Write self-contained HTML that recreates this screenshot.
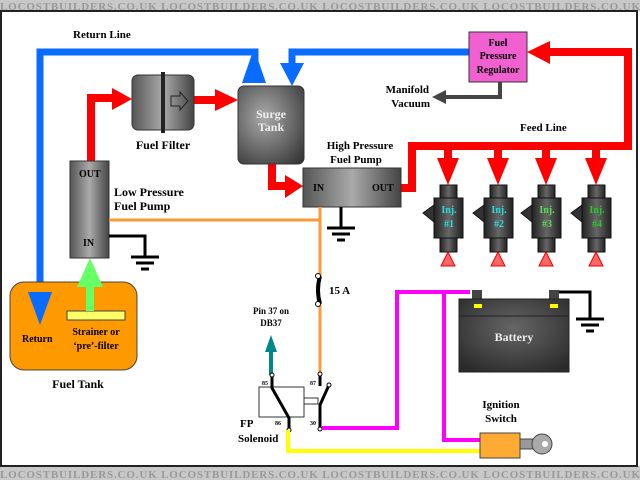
<!DOCTYPE html>
<html><head><style>
body{margin:0;width:640px;height:480px;overflow:hidden;background:#fff}
svg{display:block}
text{font-family:"Liberation Serif",serif;font-weight:bold}
</style></head><body>
<svg width="640" height="480" viewBox="0 0 640 480" xmlns="http://www.w3.org/2000/svg">
<defs>
<linearGradient id="g" x1="0" x2="1"><stop offset="0" stop-color="#555"/><stop offset=".5" stop-color="#aaa"/><stop offset="1" stop-color="#444"/></linearGradient>
<linearGradient id="d" x1="0" x2="1"><stop offset="0" stop-color="#222"/><stop offset=".5" stop-color="#666"/><stop offset="1" stop-color="#222"/></linearGradient>
<radialGradient id="s" cx=".4" cy=".4" r=".8"><stop offset="0" stop-color="#aaa"/><stop offset="1" stop-color="#333"/></radialGradient>
<radialGradient id="b" cx=".5" cy=".4" r=".7"><stop offset="0" stop-color="#666"/><stop offset="1" stop-color="#2a2a2a"/></radialGradient>
<g id="inj"><rect x="-8" y="0" width="17" height="15" fill="url(#d)" stroke="#111"/><rect x="-14" y="13" width="29" height="40" fill="url(#d)" stroke="#111"/><rect x="-8" y="53" width="17" height="14" fill="url(#d)" stroke="#111"/><polygon points="-14,20 -25,28 -14,37" fill="#333" stroke="#111"/><polygon points="0,67 -7,81 7,81" fill="#f66" stroke="#e00"/></g>
<g id="gnd"><line x1="-14" y1="0" x2="14" y2="0" stroke="#000" stroke-width="3"/><line x1="-9" y1="6" x2="9" y2="6" stroke="#000" stroke-width="3"/><line x1="-4" y1="12" x2="4" y2="12" stroke="#000" stroke-width="3"/></g>
</defs>
<rect x="0" y="0" width="640" height="11" fill="#c8c8c8"/>
<rect x="0" y="466" width="640" height="14" fill="#c8c8c8"/>
<text x="0" y="10" font-family="Liberation Sans" font-size="11" fill="#999" textLength="640">LOCOSTBUILDERS.CO.UK  LOCOSTBUILDERS.CO.UK  LOCOSTBUILDERS.CO.UK  LOCOSTBUILDERS.CO.UK</text>
<text x="0" y="478" font-family="Liberation Sans" font-size="11" fill="#999" textLength="640">LOCOSTBUILDERS.CO.UK  LOCOSTBUILDERS.CO.UK  LOCOSTBUILDERS.CO.UK  LOCOSTBUILDERS.CO.UK</text>
<rect x="1" y="11" width="636" height="455" fill="#fff" stroke="#222" stroke-width="2"/>

<!-- blue return -->
<polyline points="40,296 40,52 255,52 255,70" fill="none" stroke="#0a6cff" stroke-width="7"/>
<polygon points="28,292 52,292 40,325" fill="#0a6cff"/>
<polygon points="242,83 266,83 254,48" fill="#0a6cff"/>
<polyline points="470,52 292,52 292,70" fill="none" stroke="#0a6cff" stroke-width="7"/>
<polygon points="280,63 304,63 292,86" fill="#0a6cff"/>

<!-- red lines -->
<g fill="none" stroke="#f00" stroke-width="8">
<polyline points="91,162 91,98 115,98"/>
<line x1="194" y1="100" x2="218" y2="100"/>
<polyline points="272,164 272,186 288,186"/>
<polyline points="401,188 412,188 412,146 628,146 628,52 545,52"/>
<line x1="448" y1="146" x2="448" y2="162"/><line x1="498" y1="146" x2="498" y2="162"/><line x1="546" y1="146" x2="546" y2="162"/><line x1="596" y1="146" x2="596" y2="162"/>
</g>
<g fill="#f00">
<polygon points="112,88 132,99 112,110"/>
<polygon points="215,89 238,100 215,111"/>
<polygon points="285,175 303,186 285,198"/>
<polygon points="550,41 527,52 550,64"/>
<polygon points="437,158 459,158 448,185"/><polygon points="487,158 509,158 498,185"/><polygon points="535,158 557,158 546,185"/><polygon points="585,158 607,158 596,185"/>
</g>

<!-- fuel filter -->
<rect x="132" y="75" width="62" height="55" rx="6" fill="url(#g)" stroke="#333"/>
<rect x="161" y="72" width="4" height="61" fill="#222"/>
<polygon points="171,96 180,96 180,92 188,101 180,110 180,106 171,106" fill="none" stroke="#222"/>
<text x="163" y="149" font-size="12" text-anchor="middle">Fuel Filter</text>

<!-- surge tank -->
<rect x="238" y="86" width="66" height="78" rx="6" fill="url(#s)" stroke="#333"/>
<text x="271" y="118" font-size="12" fill="#eee" text-anchor="middle">Surge</text>
<text x="271" y="131" font-size="12" fill="#eee" text-anchor="middle">Tank</text>

<!-- regulator -->
<rect x="469" y="32" width="58" height="50" fill="#f060d0" stroke="#333"/>
<text x="498" y="46" font-size="10" text-anchor="middle">Fuel</text>
<text x="498" y="59" font-size="10" text-anchor="middle">Pressure</text>
<text x="498" y="73" font-size="10" text-anchor="middle">Regulator</text>
<polyline points="500,82 500,97 444,97" fill="none" stroke="#444" stroke-width="4"/>
<polygon points="446,90 432,97 446,104" fill="#444"/>
<text x="429" y="93" font-size="11" text-anchor="end">Manifold</text>
<text x="430" y="107" font-size="11" text-anchor="end">Vacuum</text>
<text x="73" y="38" font-size="11">Return Line</text>
<text x="520" y="131" font-size="11">Feed Line</text>

<!-- HP pump -->
<rect x="303" y="168" width="98" height="39" fill="url(#g)" stroke="#333"/>
<text x="313" y="191" font-size="10">IN</text>
<text x="372" y="191" font-size="10">OUT</text>
<text x="360" y="149" font-size="11" text-anchor="middle">High Pressure</text>
<text x="356" y="163" font-size="11" text-anchor="middle">Fuel Pump</text>
<line x1="341" y1="207" x2="341" y2="227" stroke="#000" stroke-width="3"/>
<use href="#gnd" x="341" y="228"/>

<!-- injectors -->
<use href="#inj" x="448" y="185"/><use href="#inj" x="498" y="185"/><use href="#inj" x="546" y="185"/><use href="#inj" x="596" y="185"/>
<g font-size="10" text-anchor="middle" font-weight="normal">
<text x="449" y="213" fill="#2dd">Inj.</text><text x="449" y="227" fill="#2dd">#1</text>
<text x="499" y="213" fill="#2dd">Inj.</text><text x="499" y="227" fill="#2dd">#2</text>
<text x="547" y="213" fill="#5d5">Inj.</text><text x="547" y="227" fill="#5d5">#3</text>
<text x="597" y="213" fill="#2c2">Inj.</text><text x="597" y="227" fill="#2c2">#4</text>
</g>

<!-- LP pump -->
<rect x="70" y="161" width="39" height="97" fill="url(#g)" stroke="#333"/>
<text x="79" y="177" font-size="10">OUT</text>
<text x="83" y="246" font-size="10">IN</text>
<text x="114" y="196" font-size="12">Low Pressure</text>
<text x="114" y="210" font-size="12">Fuel Pump</text>
<polyline points="109,236 145,236 145,257" fill="none" stroke="#000" stroke-width="3"/>
<use href="#gnd" x="145" y="257"/>

<!-- orange -->
<polyline points="109,220 320,220" fill="none" stroke="#f93" stroke-width="3"/>
<polyline points="320,207 320,276" fill="none" stroke="#f93" stroke-width="3"/>
<polyline points="320,305 320,375" fill="none" stroke="#f93" stroke-width="3"/>
<path d="M320,276 q-4,14 0,28" fill="none" stroke="#000" stroke-width="4"/>
<circle cx="318" cy="276" r="2.5" fill="#fff" stroke="#000"/><circle cx="318" cy="304" r="2.5" fill="#fff" stroke="#000"/>
<text x="329" y="294" font-size="11">15 A</text>

<!-- fuel tank -->
<rect x="10" y="282" width="127" height="88" rx="14" fill="#f90" stroke="#444"/>
<rect x="67" y="311" width="58" height="9" fill="#ff6" stroke="#444"/>
<line x1="90" y1="311" x2="90" y2="280" stroke="#6f6" stroke-width="8"/>
<polygon points="77,287 103,287 90,258" fill="#6f6"/>
<polygon points="28,292 52,292 40,325" fill="#0a6cff"/>
<text x="22" y="342" font-size="10">Return</text>
<text x="96" y="335" font-size="10" text-anchor="middle">Strainer or</text>
<text x="96" y="349" font-size="10" text-anchor="middle">‘pre’-filter</text>
<text x="78" y="388" font-size="12" font-weight="normal" text-anchor="middle">Fuel Tank</text>

<!-- relay -->
<line x1="271" y1="375" x2="271" y2="350" stroke="#088" stroke-width="4"/>
<polygon points="265,352 277,352 271,335" fill="#088"/>
<text x="271" y="314" font-size="9" text-anchor="middle">Pin 37 on</text>
<text x="271" y="326" font-size="9" text-anchor="middle">DB37</text>
<rect x="259" y="387" width="45" height="30" fill="#fff" stroke="#333"/>
<rect x="304" y="398" width="14" height="6" fill="#fff" stroke="#333"/>
<polyline points="272,375 272,388 289,418 289,428" fill="none" stroke="#000" stroke-width="3"/>
<line x1="320" y1="375" x2="320" y2="386" stroke="#000" stroke-width="3"/>
<polyline points="329,385 320,405 320,428" fill="none" stroke="#000" stroke-width="3"/>
<circle cx="272" cy="375" r="2" fill="#fff" stroke="#000"/><circle cx="320" cy="374" r="2" fill="#fff" stroke="#000"/><circle cx="329" cy="385" r="2" fill="#fff" stroke="#000"/><circle cx="289" cy="430" r="2" fill="#fff" stroke="#000"/><circle cx="320" cy="429" r="2" fill="#fff" stroke="#000"/>
<g font-size="6"><text x="262" y="385">85</text><text x="310" y="385">87</text><text x="275" y="425">86</text><text x="310" y="425">30</text></g>
<text x="240" y="427" font-size="11">FP</text>
<text x="238" y="442" font-size="11">Solenoid</text>

<!-- wires -->
<polyline points="322,428 397,428 397,292 470,292" fill="none" stroke="#f0f" stroke-width="4"/>
<polyline points="444,292 444,440 482,440" fill="none" stroke="#f0f" stroke-width="4"/>
<polyline points="288,430 288,451 482,451" fill="none" stroke="#ff0" stroke-width="4"/>

<!-- battery -->
<rect x="472" y="290" width="10" height="9" fill="#444"/>
<rect x="549" y="290" width="10" height="9" fill="#444"/>
<rect x="459" y="299" width="110" height="73" fill="url(#b)" stroke="#222"/>
<line x1="459" y1="316" x2="569" y2="316" stroke="#222"/>
<rect x="474" y="304" width="8" height="4" fill="#ff0"/><rect x="550" y="304" width="8" height="4" fill="#ff0"/>
<text x="514" y="341" font-size="12" fill="#eee" text-anchor="middle">Battery</text>
<polyline points="559,292 590,292 590,318" fill="none" stroke="#000" stroke-width="3"/>
<use href="#gnd" x="590" y="319"/>

<!-- ignition -->
<text x="501" y="408" font-size="11" text-anchor="middle">Ignition</text>
<text x="501" y="422" font-size="11" text-anchor="middle">Switch</text>
<rect x="480" y="433" width="40" height="25" fill="#fa3" stroke="#444"/>
<rect x="520" y="439" width="14" height="10" fill="#999" stroke="#444"/>
<circle cx="542" cy="444" r="10" fill="#aaa" stroke="#444"/>
<circle cx="545" cy="444" r="3" fill="#fff"/>
</svg>
</body></html>
